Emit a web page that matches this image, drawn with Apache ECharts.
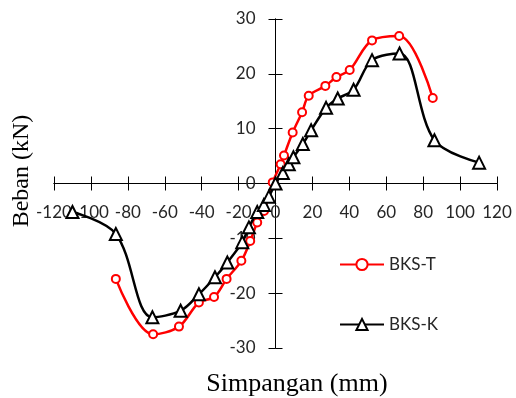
<!DOCTYPE html>
<html>
<head>
<meta charset="utf-8">
<script src="https://cdn.jsdelivr.net/npm/echarts@6/dist/echarts.min.js"></script>
<style>
html, body { margin: 0; padding: 0; background: #fff; }
#chart { width: 516px; height: 398px; }
</style>
</head>
<body>
<div id="chart"></div>
<script>
// BKS-T (merah)
const tX = [-86.5, -66.3, -52.3, -41.5, -33.3, -26.5, -18.5, -13.7, -9.9, -6.2, -1.5, 2.8, 4.6, 9.3, 14.4, 18.0, 27.0, 33.0, 40.2, 52.3, 67.0, 85.2]
const tY = [-17.4, -27.5, -26.1, -21.7, -20.7, -17.4, -14.1, -10.5, -7.1, -5.0, 0.2, 3.5, 5.1, 9.3, 13.0, 16.0, 17.8, 19.4, 20.7, 26.1, 26.9, 15.6]

// BKS-K (hitam)
const kX = [-110.0, -86.5, -66.7, -51.4, -41.5, -32.8, -26.1, -18.0, -14.4, -9.9, -6.3, -3.6, 0, 4.0, 7.2, 9.7, 14.8, 19.3, 27.4, 33.7, 42.3, 52.3, 67.2, 86.1, 110.3]
const kY = [-5.2, -9.2, -24.4, -23.2, -20.2, -17.1, -14.4, -10.7, -8.0, -5.2, -3.9, -2.4, 0, 1.9, 3.5, 4.8, 7.2, 9.7, 13.8, 15.5, 17.1, 22.5, 23.7, 7.9, 3.8]

const xMin = -120, xMax = 120, xStep = 20
const yMin = -30, yMax = 30, yStep = 10

const toPairs = (xs, ys) => xs.map((x, i) => [x, ys[i]])

const labelFont = 'Lato, "Open Sans", sans-serif'
const titleFont = '"Liberation Serif", "DejaVu Serif", serif'

const W = 516, H = 398
const gridRect = { left: 54, right: 19, top: 19, bottom: 50 }
const plotW = W - gridRect.left - gridRect.right
const plotH = H - gridRect.top - gridRect.bottom

// geser sumbu ke titik nol (offset negatif = ke dalam grid)
const xAxisOffset = -plotH * (0 - yMin) / (yMax - yMin)
const yAxisOffset = -plotW * (0 - xMin) / (xMax - xMin)

const chart = echarts.init(document.getElementById('chart'))

// grid 0: sumbu utama (tick keluar); grid 1: salinan dengan tick ke dalam -> tick silang
const makeAxis = (grid, min, max, step, offset, inside, label) => ({
  type: 'value',
  gridIndex: grid,
  min, max, interval: step,
  offset,
  splitLine: { show: false },
  axisLine: { show: true, onZero: false, lineStyle: { color: '#000', width: 1 } },
  axisTick: { show: true, inside, length: 7, lineStyle: { color: '#000', width: 1 } },
  axisLabel: label
})

const option = {
  animation: false,
  backgroundColor: '#fff',
  grid: [gridRect, { ...gridRect }],
  xAxis: [
    { ...makeAxis(0, xMin, xMax, xStep, xAxisOffset, false, { margin: 21, fontSize: 17, color: '#262626', fontFamily: labelFont }), position: 'bottom' },
    { ...makeAxis(1, xMin, xMax, xStep, xAxisOffset, true, { show: false }), position: 'bottom' }
  ],
  yAxis: [
    { ...makeAxis(0, yMin, yMax, yStep, yAxisOffset, false, { margin: 20, fontSize: 17, color: '#262626', fontFamily: labelFont }), position: 'left' },
    { ...makeAxis(1, yMin, yMax, yStep, yAxisOffset, true, { show: false }), position: 'left' }
  ],
  legend: {
    orient: 'vertical',
    left: 339,
    top: 256,
    padding: 0,
    itemWidth: 44,
    itemHeight: 14,
    itemGap: 43,
    textStyle: { fontSize: 17, color: '#262626', fontFamily: labelFont },
    data: ['BKS-T', 'BKS-K']
  },
  graphic: [
    {
      type: 'text', x: 297, y: 384,
      style: { text: 'Simpangan (mm)', font: '26px ' + titleFont, fill: '#000', align: 'center', verticalAlign: 'middle' }
    },
    {
      type: 'text', x: 22, y: 171, rotation: Math.PI / 2,
      style: { text: 'Beban (kN)', font: '24px ' + titleFont, fill: '#000', align: 'center', verticalAlign: 'middle' }
    }
  ],
  series: [
    {
      name: 'BKS-T',
      type: 'line',
      smooth: 0.35,
      data: toPairs(tX, tY),
      symbol: 'circle',
      symbolSize: 8,
      itemStyle: { color: '#fff', borderColor: '#ff0000', borderWidth: 2 },
      lineStyle: { color: '#ff0000', width: 2.5 },
      z: 3
    },
    {
      name: 'BKS-K',
      type: 'line',
      smooth: 0.35,
      data: toPairs(kX, kY),
      symbol: 'triangle',
      symbolSize: 12,
      itemStyle: { color: '#fff', borderColor: '#000', borderWidth: 2 },
      lineStyle: { color: '#000', width: 2.5 },
      z: 4
    }
  ]
}

chart.setOption(option)
</script>
</body>
</html>
